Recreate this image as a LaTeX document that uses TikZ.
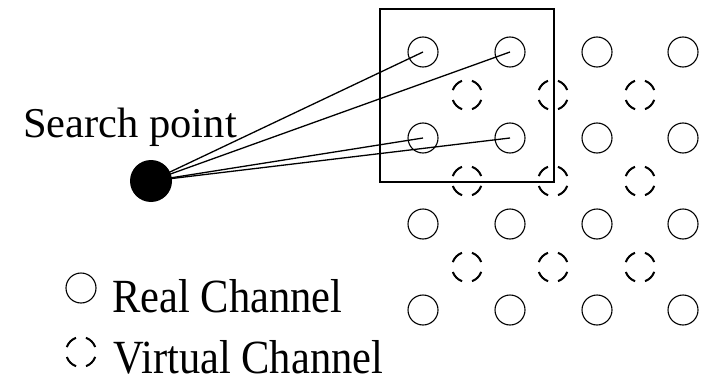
\documentclass[tikz,border=0pt]{standalone}
\usepackage{fontspec}
\setmainfont{Liberation Serif}
\begin{document}
\begin{tikzpicture}[x=1pt,y=-1pt,
  realch/.style={circle,draw,line width=1.1pt,minimum size=30pt,inner sep=0pt},
  virtch/.style={circle,draw,line width=2pt,minimum size=30pt,inner sep=0pt,
    dash pattern=on 13.5pt off 10.05pt,dash phase=18.5pt},
  label/.style={anchor=base west,inner sep=0pt,font=\fontsize{42.5}{42.5}\selectfont},
  keylabel/.style={label,yscale=1.12},
  link/.style={line width=1.3pt}]
\useasboundingbox (0,0) rectangle (711,377);

% real channels on a square grid
\foreach \c/\x in {1/423,2/510,3/597,4/683}
  \foreach \r/\y in {1/52,2/138,3/224,4/310}
    \node[realch] (r\r\c) at (\x,\y) {};

% virtual channels between them
\foreach \c/\x in {1/467,2/553,3/640}
  \foreach \r/\y in {1/95,2/181,3/267}
    \node[virtch] (v\r\c) at (\x,\y) {};

% search window
\node[draw,line width=1.3pt,minimum width=174pt,minimum height=173pt,inner sep=0pt]
  (win) at (467,95.5) {};

% search point and its links
\coordinate (sp) at (151,181);
\foreach \t in {r11,r12,r21,r22}
  \draw[link] (sp) -- (\t.center);
\node[circle,fill=black,minimum size=42pt,inner sep=0pt] (spt) at (sp) {};
\node[label] (splabel) at (23,137) {Search point};

% key
\node[realch] (kr) at (81,288) {};
\node[keylabel] (krl) at (112,312) {Real Channel};
\node[virtch] (kv) at (81,352) {};
\node[keylabel] (kvl) at (113,373.5) {Virtual Channel};
\end{tikzpicture}
\end{document}
